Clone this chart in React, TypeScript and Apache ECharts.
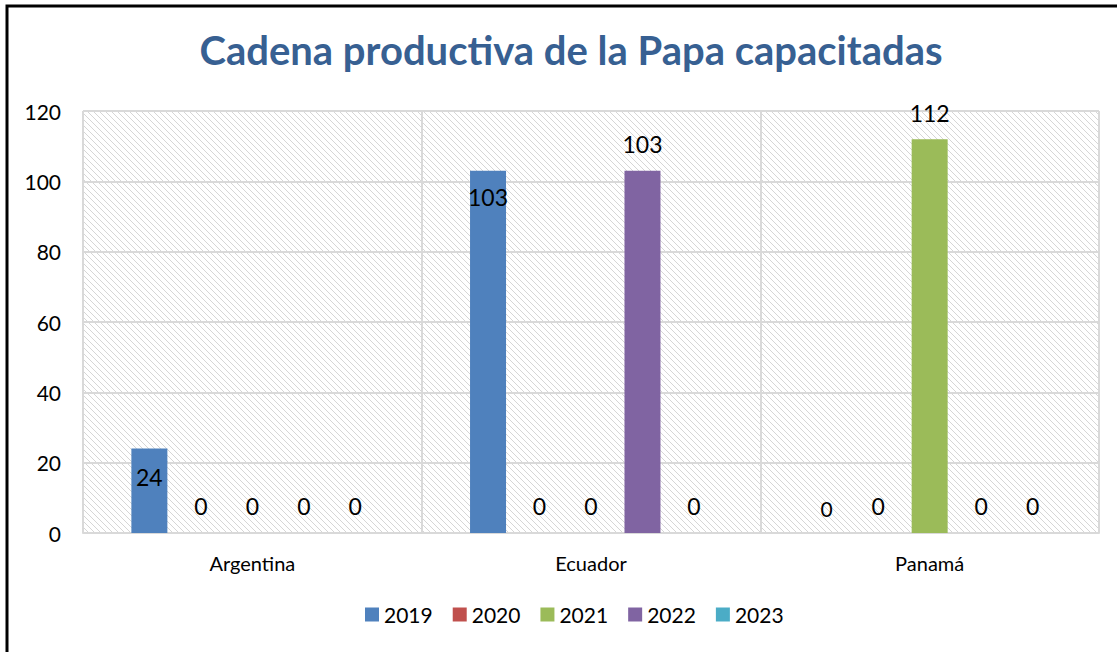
import React, { useEffect, useRef } from "react";
import * as echarts from "echarts";

const categories = ["Argentina", "Ecuador", "Panamá"];
const years = ["2019", "2020", "2021", "2022", "2023"];
const values2019 = [24, 103, 0];
const values2020 = [0, 0, 0];
const values2021 = [0, 0, 112];
const values2022 = [0, 103, 0];
const values2023 = [0, 0, 0];
const yTicks = { min: 0, max: 120, interval: 20 };

const seriesValues = [values2019, values2020, values2021, values2022, values2023];
const colors = ["#4F81BD", "#C0504D", "#9BBB59", "#8064A2", "#4BACC6"];
const FONT = "Lato, 'Noto Sans', sans-serif";

function makeHatch(): HTMLCanvasElement {
  const c = document.createElement("canvas");
  const s = 6;
  c.width = s;
  c.height = s;
  const ctx = c.getContext("2d")!;
  ctx.fillStyle = "#ffffff";
  ctx.fillRect(0, 0, s, s);
  ctx.strokeStyle = "#d6d6d6";
  ctx.lineWidth = 1;
  ctx.beginPath();
  ctx.moveTo(-1, -1);
  ctx.lineTo(s + 1, s + 1);
  ctx.moveTo(-1, s - 1);
  ctx.lineTo(1, s + 1);
  ctx.moveTo(s - 1, -1);
  ctx.lineTo(s + 1, 1);
  ctx.stroke();
  return c;
}

export default function App() {
  const ref = useRef<HTMLDivElement>(null);
  useEffect(() => {
    document.body.style.margin = "0";
    const chart = echarts.init(ref.current!, undefined, { renderer: "svg" });
    const hatch = makeHatch();
    const series = years.map((y, si) => ({
      name: y,
      type: "bar",
      barWidth: 36,
      barGap: "43%",
      itemStyle: { color: colors[si] },
      label: {
        show: true,
        position: "top",
        distance: 15,
        fontSize: 23,
        fontFamily: FONT,
        color: "#000",
      },
      data: seriesValues[si].map((v, ci) => {
        const item: any = { value: v };
        if (si === 0 && v > 0) {
          item.label = { position: "insideTop", distance: ci === 0 ? 17 : 15 };
        } else if (v === 0) {
          item.label = { position: "top", distance: 16 };
          if (si === 0 && ci === 2) item.label = { position: "top", distance: 14, fontSize: 21 };
        }
        return item;
      }),
    }));
    chart.setOption({
      animation: false,
      backgroundColor: "#ffffff",
      title: {
        text: "Cadena productiva de la Papa capacitadas",
        left: 566,
        textAlign: "center",
        top: 25,
        textStyle: {
          fontFamily: FONT,
          fontSize: 40,
          fontWeight: "bold",
          color: "#376092",
        },
      },
      legend: {
        data: years,
        bottom: 22,
        left: 360,
        icon: "rect",
        itemWidth: 14,
        itemHeight: 14,
        itemGap: 20,
        textStyle: { fontSize: 21, fontFamily: FONT, color: "#000" },
      },
      grid: {
        left: 83,
        right: 18,
        top: 111,
        bottom: 119,
        show: true,
        borderWidth: 0,
        backgroundColor: { image: hatch, repeat: "repeat" },
      },
      xAxis: {
        type: "category",
        data: categories,
        axisLine: { lineStyle: { color: "#d9d9d9", width: 2 } },
        axisTick: { show: false },
        axisLabel: { fontSize: 20, fontFamily: FONT, color: "#000", margin: 20 },
        splitLine: { show: true, interval: 0, lineStyle: { color: "#d9d9d9", width: 2 } },
      },
      yAxis: {
        type: "value",
        min: yTicks.min,
        max: yTicks.max,
        interval: yTicks.interval,
        axisLine: { show: false },
        axisTick: { show: false },
        axisLabel: { fontSize: 21, fontFamily: FONT, color: "#000", margin: 22 },
        splitLine: { lineStyle: { color: "#d9d9d9", width: 2 } },
      },
      graphic: [
        {
          type: "polyline",
          shape: { points: [[7, 660], [7, 6], [1120, 6]] },
          style: { stroke: "#000", lineWidth: 3, fill: "none" },
          z: 100,
        },
      ],
      series,
    });
    return () => chart.dispose();
  }, []);
  return <div ref={ref} style={{ width: 1117, height: 652 }} />;
}
